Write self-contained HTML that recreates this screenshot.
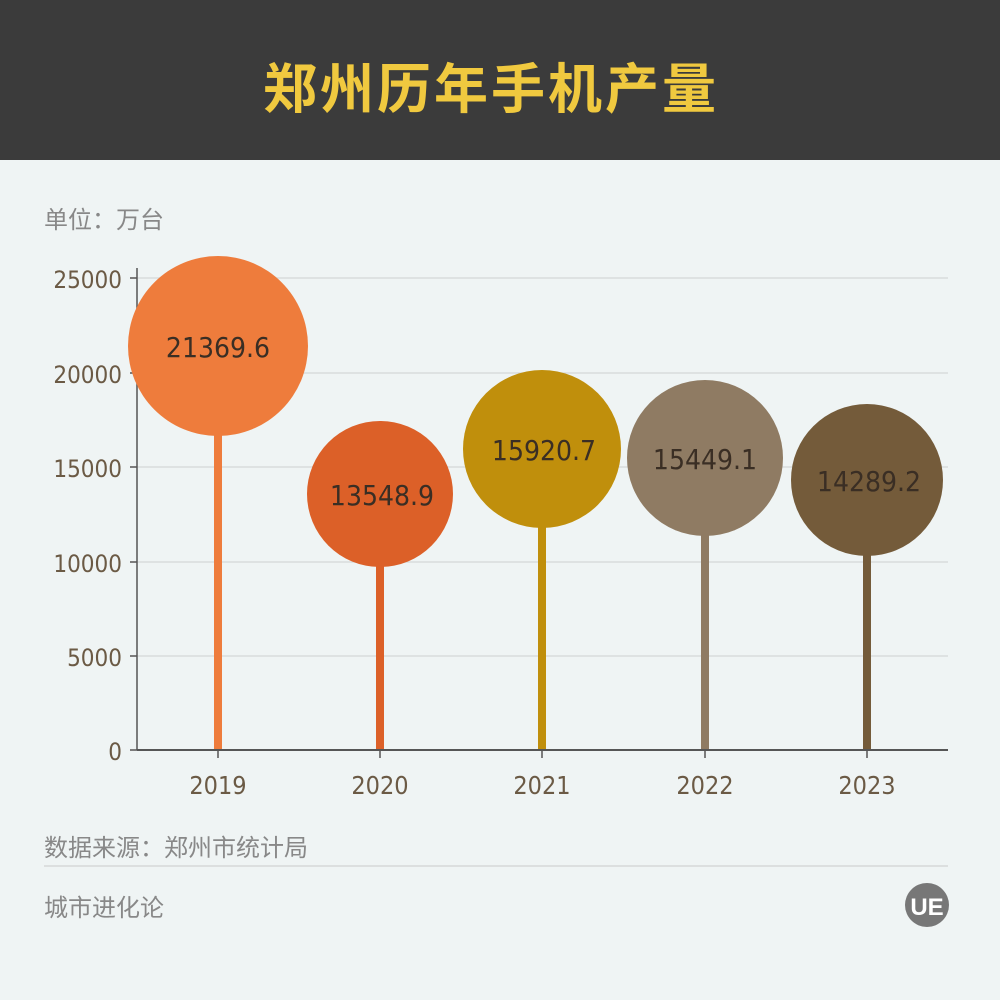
<!DOCTYPE html>
<html><head><meta charset="utf-8"><style>
body{margin:0;width:1000px;height:1000px;background:#eff4f4;overflow:hidden;font-family:"Liberation Sans","Noto Sans CJK SC",sans-serif;}
</style></head><body>
<svg width="1000" height="1000" xmlns="http://www.w3.org/2000/svg" style="position:absolute;left:0;top:0">
<rect x="0" y="0" width="1000" height="160" fill="#3b3b3b"/>
<text x="491" y="108" text-anchor="middle" font-size="54" font-weight="bold" fill="#f0c93f" font-family="Noto Sans CJK SC, sans-serif" letter-spacing="3">郑州历年手机产量</text>
<text x="44" y="228" font-size="24" fill="#888" font-family="Noto Sans CJK SC, sans-serif">单位：万台</text>
<g stroke="#d9dcdc" stroke-width="1.5">
<line x1="137" y1="278" x2="948" y2="278"/><line x1="137" y1="373" x2="948" y2="373"/>
<line x1="137" y1="467" x2="948" y2="467"/><line x1="137" y1="562" x2="948" y2="562"/>
<line x1="137" y1="656" x2="948" y2="656"/>
</g>
<g font-size="24" fill="#6b5a45" text-anchor="end" font-family="DejaVu Sans Condensed, Liberation Sans, sans-serif">
<text x="122" y="288">25000</text><text x="122" y="383">20000</text><text x="122" y="477">15000</text>
<text x="122" y="572">10000</text><text x="122" y="666">5000</text><text x="122" y="760">0</text>
</g>
<line x1="137" y1="268" x2="137" y2="750" stroke="#555" stroke-width="1.5"/>
<g stroke="#555" stroke-width="1.5">
<line x1="130" y1="278" x2="137" y2="278"/><line x1="130" y1="373" x2="137" y2="373"/><line x1="130" y1="467" x2="137" y2="467"/><line x1="130" y1="562" x2="137" y2="562"/><line x1="130" y1="656" x2="137" y2="656"/><line x1="130" y1="750" x2="137" y2="750"/>
<line x1="218" y1="750" x2="218" y2="758"/><line x1="380" y1="750" x2="380" y2="758"/><line x1="542" y1="750" x2="542" y2="758"/><line x1="705" y1="750" x2="705" y2="758"/><line x1="867" y1="750" x2="867" y2="758"/>
</g>
<rect x="214" y="346" width="8" height="404" fill="#ee7c3c"/>
<rect x="376" y="494" width="8" height="256" fill="#dc6028"/>
<rect x="538" y="449" width="8" height="301" fill="#c08f0c"/>
<rect x="701" y="458" width="8" height="292" fill="#8f7b63"/>
<rect x="863" y="480" width="8" height="270" fill="#745b3a"/>
<circle cx="218" cy="346" r="90" fill="#ee7c3c"/>
<circle cx="380" cy="494" r="73" fill="#dc6028"/>
<circle cx="542" cy="449" r="79" fill="#c08f0c"/>
<circle cx="705" cy="458" r="78" fill="#8f7b63"/>
<circle cx="867" cy="480" r="76" fill="#745b3a"/>
<g font-size="28" fill="#3a2e24" text-anchor="middle" font-family="DejaVu Sans Condensed, Liberation Sans, sans-serif">
<text x="218" y="357">21369.6</text><text x="382" y="505">13548.9</text><text x="544" y="460">15920.7</text><text x="705" y="469">15449.1</text><text x="869" y="491">14289.2</text>
</g>
<line x1="137" y1="750" x2="948" y2="750" stroke="#555" stroke-width="2"/>
<g font-size="25" fill="#6b5a45" text-anchor="middle" font-family="DejaVu Sans Condensed, Liberation Sans, sans-serif">
<text x="218" y="794">2019</text><text x="380" y="794">2020</text><text x="542" y="794">2021</text><text x="705" y="794">2022</text><text x="867" y="794">2023</text>
</g>
<text x="44" y="856" font-size="24" fill="#888" font-family="Noto Sans CJK SC, sans-serif">数据来源：郑州市统计局</text>
<line x1="44" y1="866" x2="948" y2="866" stroke="#dcdfdf" stroke-width="2"/>
<text x="44" y="916" font-size="24" fill="#888" font-family="Noto Sans CJK SC, sans-serif">城市进化论</text>
<circle cx="927" cy="905" r="22" fill="#777"/>
<text x="927" y="915" font-size="24" font-weight="bold" fill="#fff" text-anchor="middle">UE</text>
</svg>
</body></html>
